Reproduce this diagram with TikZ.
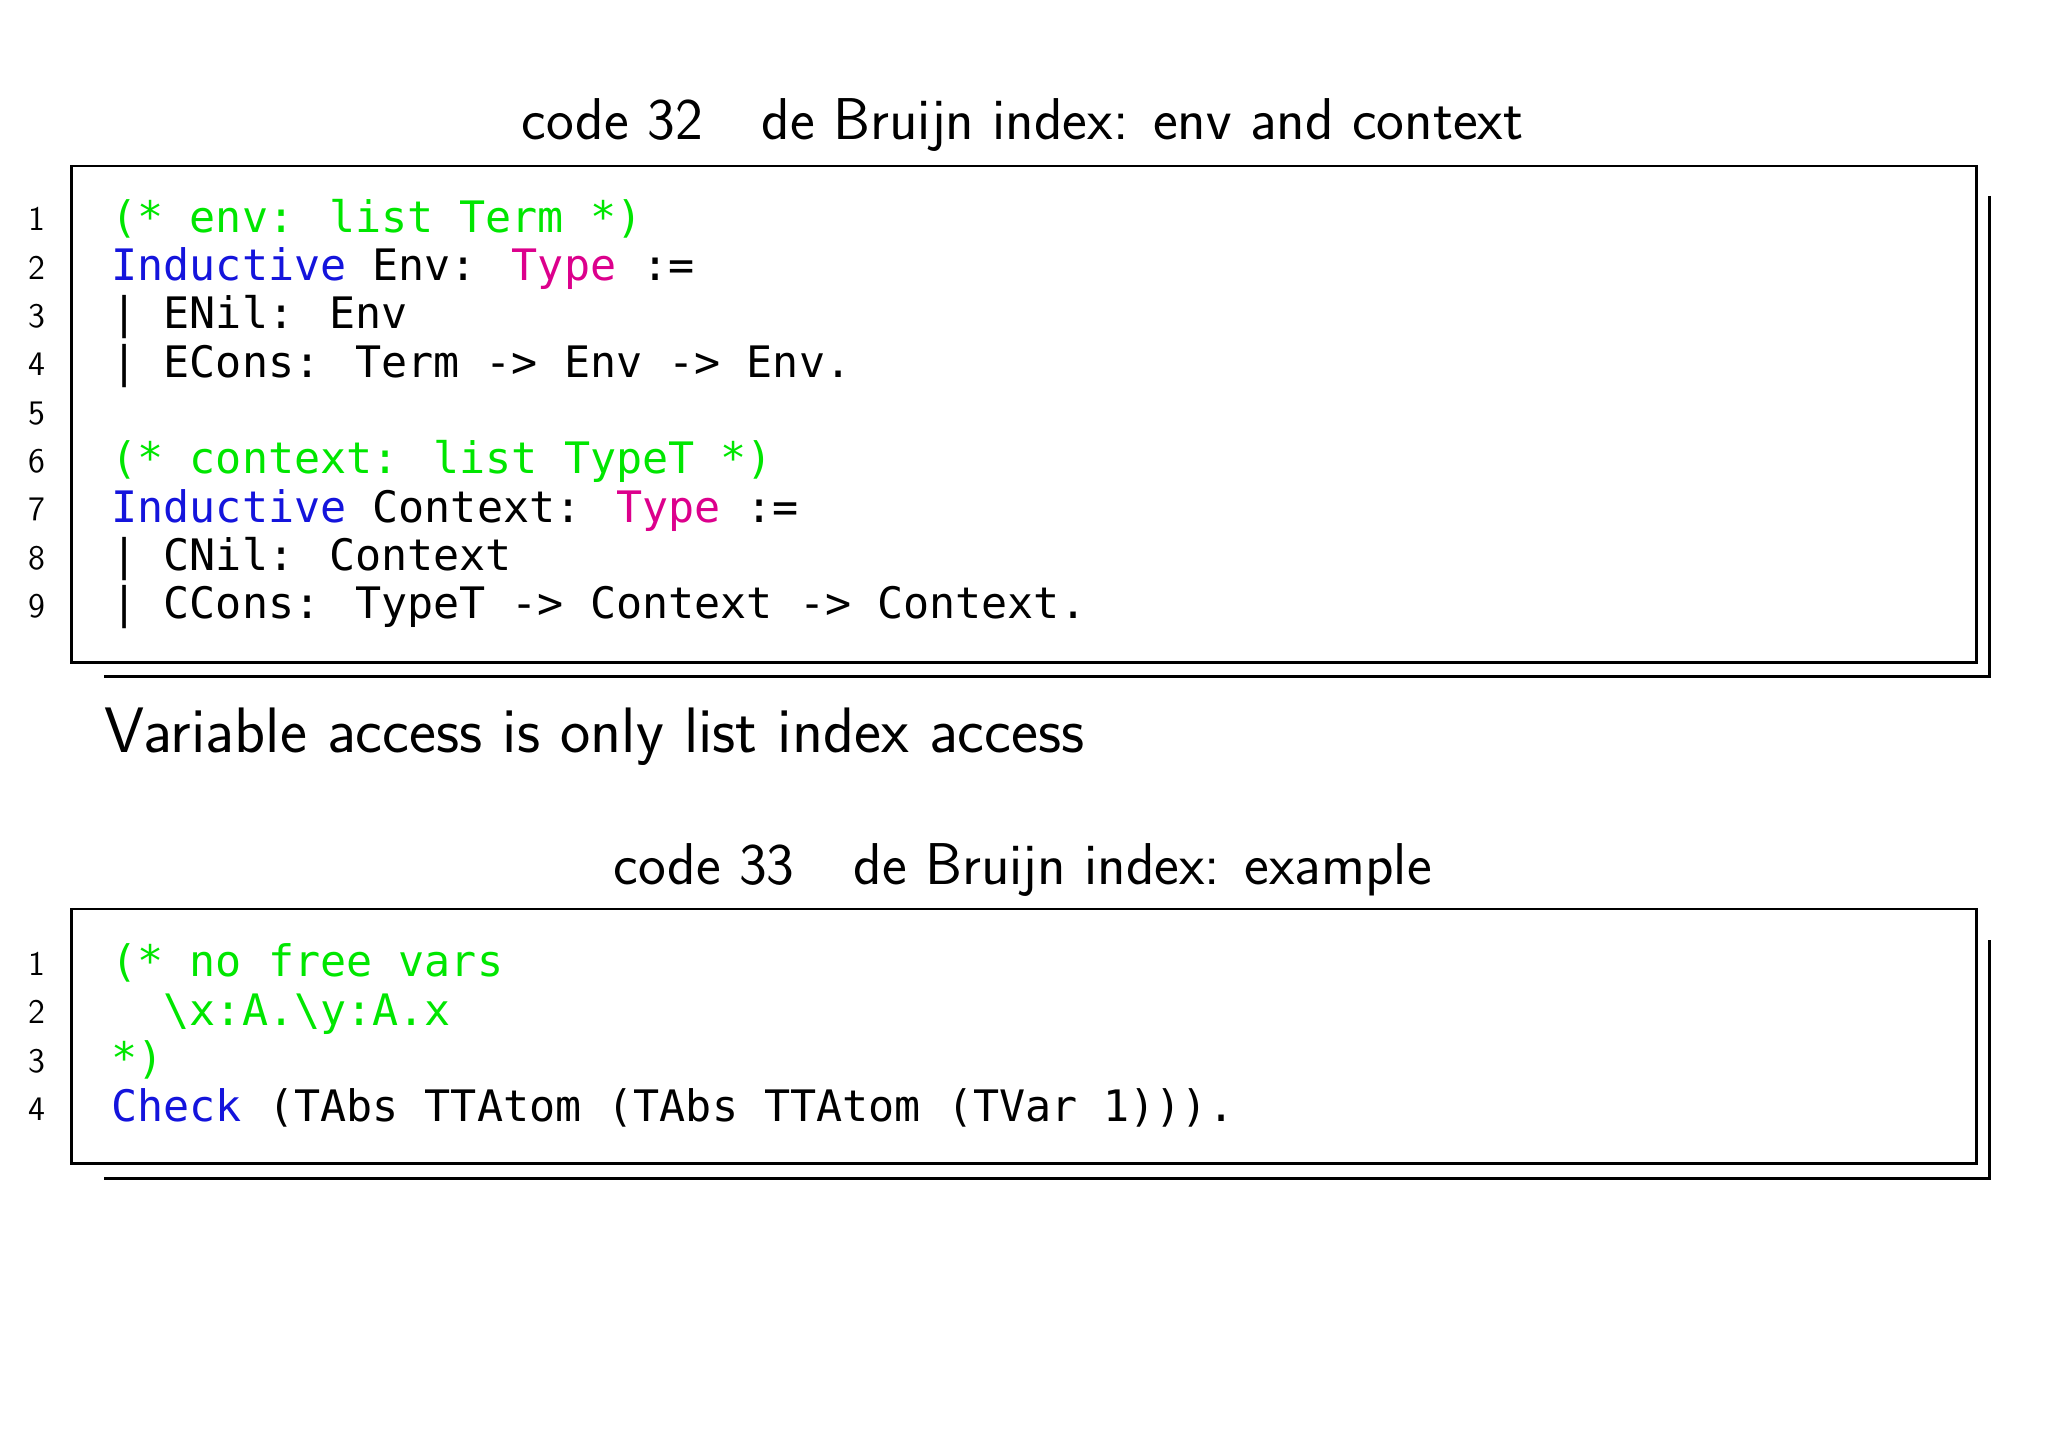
\documentclass[tikz,border=0pt]{standalone}
\usepackage{fontspec}
\newfontfamily\codefont{DejaVu Sans Mono}
\definecolor{cgreen}{RGB}{0,230,0}
\definecolor{cblue}{RGB}{20,20,220}
\definecolor{cmag}{RGB}{220,0,140}
\begin{document}
\begin{tikzpicture}[x=0.02cm,y=-0.02cm,
  code/.style={anchor=mid west,inner sep=0,font=\fontsize{18.9}{22}\codefont,yshift=-7*0.02cm},
  lnum/.style={anchor=mid east,inner sep=0,font=\fontsize{15}{18}\sffamily,yshift=-6*0.02cm},
  ttl/.style={inner sep=0,font=\fontsize{25.7}{30}\sffamily},
  frame/.style={draw,line width=1.2pt}]
\useasboundingbox (0,0) rectangle (1568,1109);
% titles
\node[ttl] (t1) at (783,96) {code 32\hspace{1em}de Bruijn index: env and context};
\node[ttl,anchor=mid west,font=\fontsize{28}{32}\sffamily] (mid) at (80,572) {Variable access is only list index access};
\node[ttl] (t2) at (783,666) {code 33\hspace{1em}de Bruijn index: example};
% box 1
\draw[frame] (55,127) rectangle (1513,507);
\draw[frame] (1523,150) -- (1523,518) -- (80,518);
\foreach \n/\y in {1/167,2/204,3/241,4/278,5/315,6/352,7/389,8/426,9/463}
  \node[lnum] (a\n) at (35,\y) {\n};
\node[code] (c1) at (85,167) {{\color{cgreen}(* env: list Term *)}};
\node[code] (c2) at (85,204) {{\color{cblue}Inductive} Env: {\color{cmag}Type} :=};
\node[code] (c3) at (85,241) {| ENil: Env};
\node[code] (c4) at (85,278) {| ECons: Term -> Env -> Env.};
\node[code] (c6) at (85,352) {{\color{cgreen}(* context: list TypeT *)}};
\node[code] (c7) at (85,389) {{\color{cblue}Inductive} Context: {\color{cmag}Type} :=};
\node[code] (c8) at (85,426) {| CNil: Context};
\node[code] (c9) at (85,463) {| CCons: TypeT -> Context -> Context.};
% box 2
\draw[frame] (55,696) rectangle (1513,891);
\draw[frame] (1523,720) -- (1523,902) -- (80,902);
\foreach \n/\y in {1/737,2/774,3/811,4/848}
  \node[lnum] (b\n) at (35,\y) {\n};
\node[code] (d1) at (85,737) {{\color{cgreen}(* no free vars}};
\node[code] (d2) at (85,774) {{\color{cgreen}\ \ \textbackslash x:A.\textbackslash y:A.x}};
\node[code] (d3) at (85,811) {{\color{cgreen}*)}};
\node[code] (d4) at (85,848) {{\color{cblue}Check} (TAbs TTAtom (TAbs TTAtom (TVar 1))).};
\end{tikzpicture}
\end{document}
